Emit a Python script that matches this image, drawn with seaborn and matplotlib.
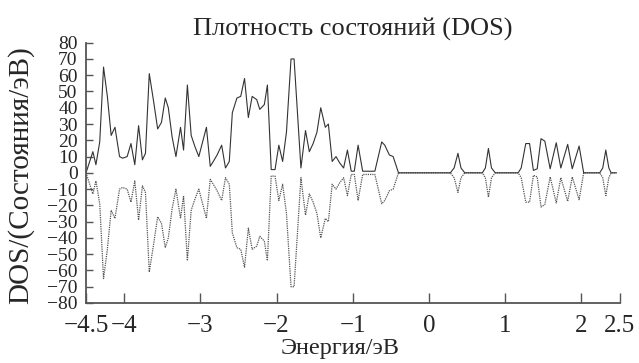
import matplotlib
matplotlib.use("Agg")

import matplotlib.pyplot as plt
import seaborn as sns
import pandas as pd

# энергия (эВ) и DOS
energy = [-4.50, -4.41, -4.37, -4.32, -4.27, -4.22, -4.17, -4.12, -4.06, -4.02,
          -3.96, -3.91, -3.86, -3.81, -3.76, -3.72, -3.67, -3.61, -3.56, -3.51,
          -3.46, -3.42, -3.37, -3.32, -3.26, -3.22, -3.17, -3.12, -3.07, -3.02,
          -2.97, -2.92, -2.87, -2.83, -2.78, -2.72, -2.67, -2.62, -2.58, -2.52,
          -2.47, -2.42, -2.37, -2.32, -2.26, -2.22, -2.16, -2.12, -2.07, -2.02,
          -1.97, -1.92, -1.87, -1.81, -1.77, -1.68, -1.62, -1.57, -1.52, -1.47,
          -1.42, -1.36, -1.32, -1.27, -1.22, -1.17, -1.12, -1.07, -1.02, -0.98,
          -0.93, -0.87, -0.82, -0.77, -0.71, -0.62, -0.58, -0.52, -0.47, -0.40,
          0.28, 0.33, 0.38, 0.42, 0.47, 0.70, 0.74, 0.78, 0.82, 0.87,
          1.17, 1.21, 1.27, 1.32, 1.37, 1.42, 1.47, 1.52, 1.59, 1.67,
          1.73, 1.82, 1.88, 1.97, 2.03, 2.24, 2.28, 2.32, 2.36, 2.39, 2.46]

dos_up = [0, 13, 5, 19, 65, 47, 23, 28, 10, 9,
          10, 18, 5, 29, 8, 12, 61, 43, 27, 31,
          46, 40, 22, 10, 28, 14, 54, 23, 16, 10,
          19, 28, 4, 7, 11, 17, 3, 7, 37, 46,
          47, 58, 34, 47, 45, 39, 42, 54, 2, 2,
          17, 7, 25, 70, 70, 3, 26, 13, 18, 25,
          40, 28, 30, 7, 10, 6, 3, 14, 1, 1,
          17, 1, 1, 1, 1, 19, 17, 11, 10, 0,
          0, 3, 12, 3, 0, 0, 3, 15, 3, 0,
          0, 3, 18, 18, 1.5, 2.5, 21, 19.5, 2.5, 18.5,
          3, 17.5, 2.5, 16.5, 0, 0, 3, 14, 3, 0, 0]

dos_down = [0, -13, -5, -19, -65, -47, -23, -28, -10, -9,
            -10, -18, -5, -29, -8, -12, -61, -43, -27, -31,
            -46, -40, -22, -10, -28, -14, -54, -23, -16, -10,
            -19, -28, -4, -7, -11, -17, -3, -7, -37, -46,
            -47, -58, -34, -47, -45, -39, -42, -54, -2, -2,
            -17, -7, -25, -70, -70, -3, -26, -13, -18, -25,
            -40, -28, -30, -7, -10, -6, -3, -14, -1, -1,
            -17, -1, -1, -1, -1, -19, -17, -11, -10, 0,
            0, -3, -12, -3, 0, 0, -3, -15, -3, 0,
            0, -3, -18, -18, -1.5, -2.5, -21, -19.5, -2.5, -18.5,
            -3, -17.5, -2.5, -16.5, 0, 0, -3, -14, -3, 0, 0]

x_ticks = [-4.5, -4, -3, -2, -1, 0, 1, 2, 2.5]
x_labels = ["−4.5", "−4", "−3", "−2", "−1", "0", "1", "2", "2.5"]
y_ticks = [-80, -70, -60, -50, -40, -30, -20, -10, 0, 10, 20, 30, 40, 50, 60, 70, 80]

sns.set_style("ticks")
plt.rcParams["font.family"] = ["Liberation Serif", "DejaVu Serif"]

df = pd.DataFrame({"E": energy, "up": dos_up, "down": dos_down})

fig = plt.figure(figsize=(6.39, 3.63), dpi=100)
ax = fig.add_axes([0.1346, 0.1653, 0.8349, 0.7171])

# спин вниз - пунктир, спин вверх - сплошная
sns.lineplot(data=df, x="E", y="down", ax=ax, color="#555555", lw=0.9,
             ls=(0, (1, 0.8)), estimator=None, sort=False)
sns.lineplot(data=df, x="E", y="up", ax=ax, color="#333333", lw=0.8,
             estimator=None, sort=False)

ax.set_xlim(-4.5, 2.5)
ax.set_ylim(-80, 80)
ax.set_xticks(x_ticks)
ax.set_xticklabels(x_labels)
ax.set_yticks(y_ticks)

for side in ["top", "right"]:
    ax.spines[side].set_visible(False)
for side in ["left", "bottom"]:
    ax.spines[side].set_linewidth(1.3)
    ax.spines[side].set_color("#555555")

ax.tick_params(direction="in", width=1, color="#555555")
ax.tick_params(axis="x", length=7, labelsize=18, pad=8.5)
ax.tick_params(axis="y", length=5, labelsize=14, pad=6)

ax.set_title("Плотность состояний (DOS)", fontsize=19, pad=5)
ax.set_xlabel("Энергия/эВ", fontsize=17.5, labelpad=1, x=0.476)
ax.set_ylabel("DOS/(Состояния/эВ)", fontsize=21)
ax.yaxis.set_label_coords(-0.097, 0.49)

fig.savefig("out.png", dpi=100)
